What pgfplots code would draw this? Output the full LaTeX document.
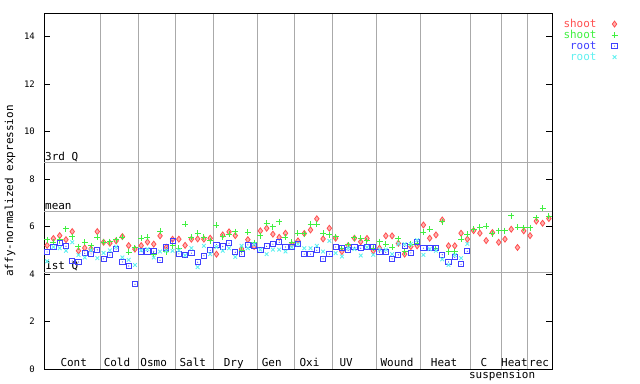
\documentclass[border=0pt]{standalone}
\usepackage{pgfplots}
\pgfplotsset{compat=1.18}
\usepackage{pgfplotstable}
\usepackage{fontspec}
\setmainfont{DejaVu Sans Mono}
\definecolor{cr}{RGB}{255,80,80}
\definecolor{cg}{RGB}{64,240,64}
\definecolor{cb}{RGB}{64,64,255}
\definecolor{cc}{RGB}{96,240,240}
\definecolor{gridgray}{RGB}{170,170,170}
\newcommand{\lbl}{\fontsize{11}{11}\selectfont}
\pgfdeclareplotmark{sqdot}{%
  \pgfpathrectangle{\pgfqpoint{-\pgfplotmarksize}{-\pgfplotmarksize}}{\pgfqpoint{2\pgfplotmarksize}{2\pgfplotmarksize}}%
  \pgfusepathqstroke
  \pgfpathcircle{\pgfpointorigin}{0.6pt}\pgfusepathqfill
}
\pgfplotstableread{
x r g b c
1 5.21 5.44 4.93 4.54
2 5.50 5.35 5.14 5.14
3 5.62 5.45 5.30 5.09
4 5.45 5.90 5.17 4.98
5 5.79 5.58 4.55 5.34
6 4.98 5.16 4.51 4.80
7 5.10 5.34 4.88 4.70
8 5.06 5.20 4.85 5.00
9 5.79 5.55 5.02 4.67
10 5.34 5.34 4.64 4.89
11 5.30 5.37 4.80 5.00
12 5.40 5.45 5.05 5.15
13 5.58 5.55 4.51 4.70
14 5.20 4.92 4.34 4.60
15 5.05 5.10 3.57 4.38
16 5.20 5.50 4.95 5.00
17 5.35 5.55 4.95 5.05
18 5.26 4.81 4.96 4.70
19 5.61 5.80 4.58 4.95
20 5.13 4.95 5.12 4.98
21 5.47 5.20 5.40 4.98
22 5.47 5.09 4.85 5.00
23 5.21 6.10 4.79 4.79
24 5.47 5.55 4.88 5.09
25 5.48 5.72 4.50 4.29
26 5.47 5.55 4.77 5.19
27 5.51 5.41 5.00 4.84
28 4.84 6.06 5.24 5.14
29 5.65 5.58 5.16 4.98
30 5.78 5.68 5.30 5.09
31 5.62 5.79 4.92 4.72
32 5.06 5.00 4.84 5.19
33 5.45 5.76 5.23 5.09
34 5.16 5.33 5.20 5.26
35 5.82 5.62 5.03 5.03
36 5.93 6.14 5.17 4.84
37 5.68 6.00 5.26 5.03
38 5.55 6.20 5.34 5.03
39 5.72 5.55 5.14 4.95
40 5.25 5.34 5.13 5.13
41 5.40 5.72 5.26 5.26
42 5.71 5.69 4.84 5.09
43 5.86 6.10 4.84 5.09
44 6.33 6.10 5.00 5.19
45 5.48 5.72 4.64 4.95
46 5.93 5.65 4.84 5.40
47 5.51 5.58 5.14 4.88
48 4.95 5.09 5.09 4.74
49 5.20 5.23 5.00 5.09
50 5.51 5.54 5.13 5.05
51 5.36 5.50 5.09 4.78
52 5.50 5.40 5.13 5.13
53 4.98 5.09 5.14 4.81
54 5.09 5.37 4.92 5.03
55 5.61 5.26 4.92 5.03
56 5.61 5.13 4.64 4.84
57 5.30 5.48 4.81 5.26
58 4.84 4.95 5.17 5.26
59 5.16 5.26 4.89 5.26
60 5.19 5.30 5.37 5.43
61 6.07 5.76 5.09 4.81
62 5.51 5.89 5.09 5.05
63 5.65 5.09 5.09 4.98
64 6.28 6.21 4.81 4.62
65 5.19 4.93 4.51 4.38
66 5.19 4.93 4.71 4.80
67 5.72 5.47 4.41 4.67
68 5.47 5.68 4.96 5.27
69 5.83 5.89 nan nan
70 5.72 5.97 nan nan
71 5.41 6.02 nan nan
72 5.75 5.69 nan nan
73 5.34 5.83 nan nan
74 5.47 5.83 nan nan
75 5.89 6.45 nan nan
76 5.12 5.97 nan nan
77 5.82 5.96 nan nan
78 5.62 5.96 nan nan
79 6.23 6.37 nan nan
80 6.14 6.78 nan nan
81 6.34 6.44 nan nan
}\data
\begin{document}
\begin{tikzpicture}
\path[use as bounding box] (-44bp,-15bp) rectangle (596bp,369bp);
\begin{axis}[
  at={(0,0)}, anchor=south west,
  scale only axis, width=508bp, height=356bp,
  xmin=0.5, xmax=81.5, ymin=0, ymax=15,
  xtick={9.5,15.5,21.5,27.5,34.5,40.5,46.5,53.5,60.5,68.5,73.5,77.5},
  xticklabels={},
  major x tick style={draw=none},
  xmajorgrids, grid style={color=gridgray, line width=0.8bp},
  ytick={0,2,...,14},
  tick align=inside, major tick length=6bp,
  y tick style={black, line width=0.8bp},
  axis line style={line width=0.8bp},
  /pgf/number format/assume math mode=true,
  yticklabel style={font=\fontsize{9}{9}\selectfont, inner sep=0pt, xshift=-9bp},
  ylabel={affy-normalized expression},
  ylabel style={font=\lbl, at={(axis description cs:-0.067,0.5)}, anchor=center},
  clip=false,
  legend style={at={(axis description cs:1.129,0.980)}, anchor=north east, draw=none, fill=none, inner sep=0pt, outer sep=0pt, font=\lbl, nodes={inner sep=0pt, text height=7bp, text depth=1bp}, row sep=3bp, column sep=15bp},
  legend plot pos=right,
  legend cell align=right,
]
\addplot[gridgray, line width=0.8bp, forget plot] coordinates {(0.5,8.69) (81.5,8.69)};
\addplot[gridgray, line width=0.8bp, forget plot] coordinates {(0.5,6.62) (81.5,6.62)};
\addplot[gridgray, line width=0.8bp, forget plot] coordinates {(0.5,4.09) (81.5,4.09)};
\addplot[only marks, mark=diamond*, mark size=3bp, mark options={draw=cr, fill=cr!45, line width=0.8bp}] table[x=x, y=r] {\data};
\addlegendentry{\textcolor{cr}{shoot}}
\addplot[only marks, mark=+, mark size=3bp, mark options={draw=cg, line width=1bp}] table[x=x, y=g] {\data};
\addlegendentry{\textcolor{cg}{shoot}}
\addplot[only marks, mark=sqdot, mark size=2.6bp, mark options={draw=cb, fill=cb, line width=0.9bp}] table[x=x, y=b] {\data};
\addlegendentry{\textcolor{cb}{root}}
\addplot[only marks, mark=x, mark size=2.6bp, mark options={draw=cc, line width=0.9bp}] table[x=x, y=c] {\data};
\addlegendentry{\textcolor{cc}{root}}
\node[anchor=base west, font=\lbl, inner sep=0pt, xshift=1bp, yshift=2bp] at (axis cs:0.5,8.69) {3rd Q};
\node[anchor=base west, font=\lbl, inner sep=0pt, xshift=1bp, yshift=2bp] at (axis cs:0.5,6.62) {mean};
\node[anchor=base west, font=\lbl, inner sep=0pt, xshift=1bp, yshift=2bp] at (axis cs:0.5,4.09) {1st Q};
\node[anchor=base, font=\lbl, inner sep=0pt] at (axis cs:5.24,0.105) {Cont};
\node[anchor=base, font=\lbl, inner sep=0pt] at (axis cs:12.14,0.105) {Cold};
\node[anchor=base, font=\lbl, inner sep=0pt] at (axis cs:17.99,0.105) {Osmo};
\node[anchor=base, font=\lbl, inner sep=0pt] at (axis cs:24.22,0.105) {Salt};
\node[anchor=base, font=\lbl, inner sep=0pt] at (axis cs:30.76,0.105) {Dry};
\node[anchor=base, font=\lbl, inner sep=0pt] at (axis cs:36.82,0.105) {Gen};
\node[anchor=base, font=\lbl, inner sep=0pt] at (axis cs:42.84,0.105) {Oxi};
\node[anchor=base, font=\lbl, inner sep=0pt] at (axis cs:48.67,0.105) {UV};
\node[anchor=base, font=\lbl, inner sep=0pt] at (axis cs:56.80,0.105) {Wound};
\node[anchor=base, font=\lbl, inner sep=0pt] at (axis cs:64.30,0.105) {Heat};
\node[anchor=base, font=\lbl, inner sep=0pt] at (axis cs:70.63,0.105) {C};
\node[anchor=base, font=\lbl, inner sep=0pt] at (axis cs:75.51,0.105) {Heat};
\node[anchor=base, font=\lbl, inner sep=0pt] at (axis cs:79.45,0.105) {rec};
\node[anchor=base, font=\lbl, inner sep=0pt] at (axis cs:73.55,-0.39) {suspension};
\end{axis}
\end{tikzpicture}
\end{document}
